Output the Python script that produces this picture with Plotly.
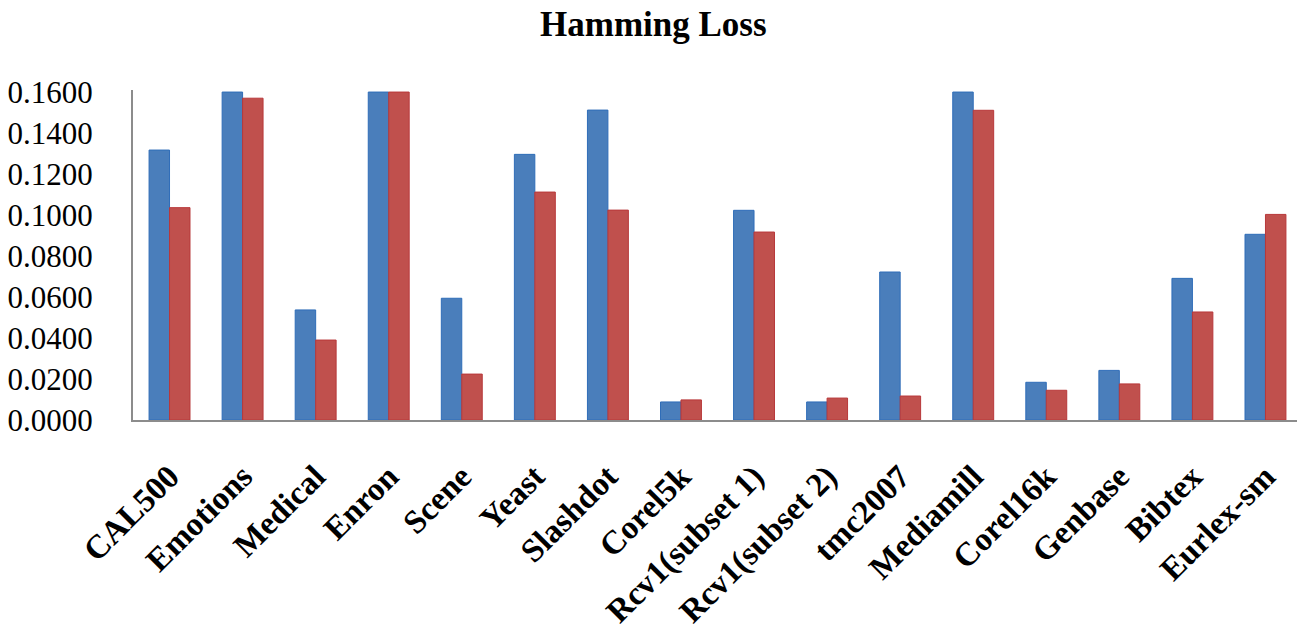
import plotly.graph_objects as go

categories = ["CAL500", "Emotions", "Medical", "Enron", "Scene", "Yeast", "Slashdot",
              "Corel5k", "Rcv1(subset 1)", "Rcv1(subset 2)", "tmc2007", "Mediamill",
              "Corel16k", "Genbase", "Bibtex", "Eurlex-sm"]
series_a = [0.1317, 0.1600, 0.0537, 0.1600, 0.0594, 0.1296, 0.1512, 0.0088,
            0.1023, 0.0088, 0.0722, 0.1600, 0.0184, 0.0242, 0.0691, 0.0906]
series_b = [0.1036, 0.1570, 0.0390, 0.1600, 0.0224, 0.1112, 0.1024, 0.0098,
            0.0917, 0.0107, 0.0117, 0.1511, 0.0145, 0.0176, 0.0527, 0.1003]
y_ticks = [0.0, 0.02, 0.04, 0.06, 0.08, 0.10, 0.12, 0.14, 0.16]
title_text = "Hamming Loss"

fig = go.Figure()
fig.add_trace(go.Bar(x=categories, y=series_a, name="A",
                     marker=dict(color="#4A7EBB", line=dict(color="#2F6DB8", width=1))))
fig.add_trace(go.Bar(x=categories, y=series_b, name="B",
                     marker=dict(color="#C0504D", line=dict(color="#B8383A", width=1))))

fig.update_layout(
    width=1297, height=625,
    margin=dict(l=125, r=3, t=82, b=213),
    paper_bgcolor="white", plot_bgcolor="white",
    barmode="group", bargap=0.44, bargroupgap=0,
    showlegend=False,
)
fig.add_annotation(text=title_text, xref="paper", yref="paper", x=0.445, y=1.2,
                   xanchor="center", yanchor="middle", showarrow=False,
                   font=dict(family="Liberation Serif", size=35, color="black", weight="bold"))
fig.update_xaxes(
    showline=True, linecolor="#8C8C8C", linewidth=2,
    showgrid=False, ticks="", tickangle=-45, automargin=False,
    tickfont=dict(family="Liberation Serif", size=33, color="black", weight="bold"),
    ticklabelstandoff=22,
)
fig.update_yaxes(
    range=[0, 0.161], showline=True, linecolor="#8C8C8C", linewidth=2,
    showgrid=False, zeroline=False, ticks="", tickvals=y_ticks, tickformat=".4f",
    automargin=False,
    tickfont=dict(family="Liberation Serif", size=31, color="black"),
    ticklabelstandoff=32,
)

fig.write_html("out.html")
